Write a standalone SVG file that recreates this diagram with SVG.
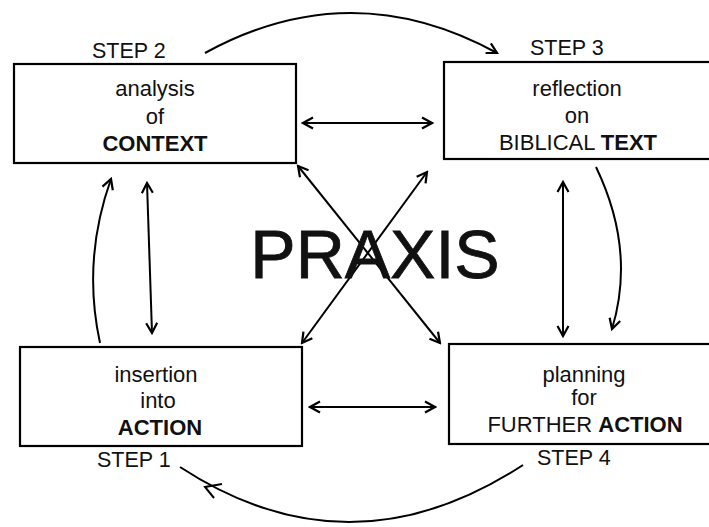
<svg xmlns="http://www.w3.org/2000/svg" width="709" height="527" viewBox="0 0 709 527">
<style>
.box{fill:#fff;stroke:#000;stroke-width:2.2}
.t{font-family:"Liberation Sans",Arial,sans-serif;font-size:22px;fill:#111;text-anchor:middle}
.b{font-weight:bold}
.step{font-family:"Liberation Sans",Arial,sans-serif;font-size:21.5px;fill:#111}
.c{fill:none;stroke:#000;stroke-width:2}
.d{marker-start:url(#ah);marker-end:url(#ah)}
.e{marker-end:url(#ah)}
</style>
<defs>
<marker id="ah" viewBox="0 0 14 14" refX="12" refY="7" markerWidth="14" markerHeight="14" markerUnits="userSpaceOnUse" orient="auto-start-reverse">
<path d="M2,1.5 L12,7 L2,12.5" fill="none" stroke="#000" stroke-width="2.2"/>
</marker>
</defs>
<rect width="709" height="527" fill="#fff"/>
<g id="connectors">
<path class="c e" d="M205,53 Q351,-27 497,53"/>
<path class="c" d="M523,465 Q350,578 180,467"/>
<path class="c" d="M222,484 L205,487 L214,498"/>
<path class="c e" d="M100,343 Q82,260 111,179"/>
<path class="c d" d="M147,183 L152,333"/>
<path class="c d" d="M563,182 L563,336"/>
<path class="c e" d="M596,167 Q636,250 612,329"/>
<path class="c d" d="M303,123 L432,123"/>
<path class="c d" d="M310,407 L435,407"/>
<path class="c d" d="M298,166 L440,343"/>
<path class="c d" d="M427,172 L302,343"/>
</g>
<g id="praxis">
<text x="375" y="278" font-family="Liberation Sans, Arial, sans-serif" font-size="68" text-anchor="middle" fill="#111" stroke="#111" stroke-width="0.8">PRAXIS</text>
</g>
<g id="step2">
<rect class="box" x="14" y="64" width="282" height="99"/>
<text class="step" x="92" y="58">STEP 2</text>
<text class="t" x="155" y="96">analysis</text>
<text class="t" x="155" y="124">of</text>
<text class="t b" x="155" y="151">CONTEXT</text>
</g>
<g id="step3">
<rect class="box" x="444" y="62" width="272" height="97"/>
<text class="step" x="530" y="55">STEP 3</text>
<text class="t" x="577" y="96">reflection</text>
<text class="t" x="577" y="123">on</text>
<text class="t" x="578" y="150">BIBLICAL <tspan class="b">TEXT</tspan></text>
</g>
<g id="step1">
<rect class="box" x="20" y="347" width="282" height="99"/>
<text class="step" x="97" y="467">STEP 1</text>
<text class="t" x="156" y="382">insertion</text>
<text class="t" x="158" y="408">into</text>
<text class="t b" x="160" y="435">ACTION</text>
</g>
<g id="step4">
<rect class="box" x="449" y="344" width="272" height="100"/>
<text class="step" x="537" y="465">STEP 4</text>
<text class="t" x="584" y="382">planning</text>
<text class="t" x="584" y="405">for</text>
<text class="t" x="585" y="432">FURTHER <tspan class="b">ACTION</tspan></text>
</g>
</svg>
